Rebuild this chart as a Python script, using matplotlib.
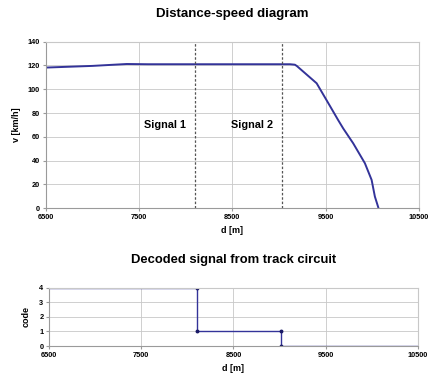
import numpy as np
import matplotlib
matplotlib.use("Agg")
import matplotlib.pyplot as plt

plt.rcParams['font.family'] = ['Liberation Sans', 'DejaVu Sans']
plt.rcParams['font.weight'] = 'bold'

# speed profile
dist = [6500, 7000, 7370, 7600, 8500, 9050, 9120, 9172, 9193, 9405, 9547, 9636,
        9690, 9797, 9922, 9994, 10029, 10065]
speed = [118.2, 119.6, 121.2, 121.0, 121.0, 121.0, 121.0, 120.6, 119.5, 105, 86, 74,
         67, 54.5, 37.8, 23.8, 9.8, 0.8]

signal_pos = [8100, 9030]
signal_names = ["Signal 1", "Signal 2"]

# decoded track circuit code
code_d = [6500, 8100, 8100, 9020, 9020, 10500]
code_v = [4, 4, 1, 1, 0, 0]

line_col = '#333399'
grid_col = '#c8c8c8'

fig = plt.figure(figsize=(4.3, 3.82), dpi=100)

def style(ax):
    for s in ax.spines.values():
        s.set_color(grid_col)
        s.set_linewidth(0.8)
    ax.spines['bottom'].set_color('#9a9a9a')
    ax.spines['left'].set_color('#9a9a9a')
    ax.grid(True, color=grid_col, linewidth=0.6)
    ax.set_axisbelow(True)
    ax.tick_params(labelsize=5.3, length=2, color='#9a9a9a', pad=2)

ax1 = fig.add_axes([0.106, 0.455, 0.868, 0.436])
ax1.plot(dist, speed, color=line_col, lw=1.4)
for x, name in zip(signal_pos, signal_names):
    ax1.axvline(x, color='#555555', lw=0.9, ls=(0, (2, 1.5)))
    ax1.text(x - 320, 70, name, ha='center', va='center', fontsize=7.8, fontweight='bold')
ax1.set_xlim(6500, 10500)
ax1.set_ylim(0, 140)
ax1.set_xticks([6500, 7500, 8500, 9500, 10500])
ax1.set_yticks(np.arange(0, 141, 20))
ax1.set_xlabel("d [m]", fontsize=6.5, fontweight='bold', labelpad=4)
ax1.set_ylabel("v [km/h]", fontsize=6.5, fontweight='bold', labelpad=5)
ax1.set_title("Distance-speed diagram", fontsize=9.5, fontweight='bold', pad=18)
style(ax1)

ax2 = fig.add_axes([0.114, 0.094, 0.858, 0.153])
ax2.plot(code_d, code_v, color=line_col, lw=1.0)
ax2.plot(code_d[1:5], code_v[1:5], 'o', color='#1a1a66', ms=1.8)
ax2.set_xlim(6500, 10500)
ax2.set_ylim(0, 4)
ax2.set_xticks([6500, 7500, 8500, 9500, 10500])
ax2.set_yticks(range(5))
ax2.set_xlabel("d [m]", fontsize=6.5, fontweight='bold', labelpad=4)
ax2.set_ylabel("code", fontsize=6.5, fontweight='bold', labelpad=6)
ax2.set_title("Decoded signal from track circuit", fontsize=9.4, fontweight='bold', pad=18)
style(ax2)

fig.savefig("out.png", dpi=100)
